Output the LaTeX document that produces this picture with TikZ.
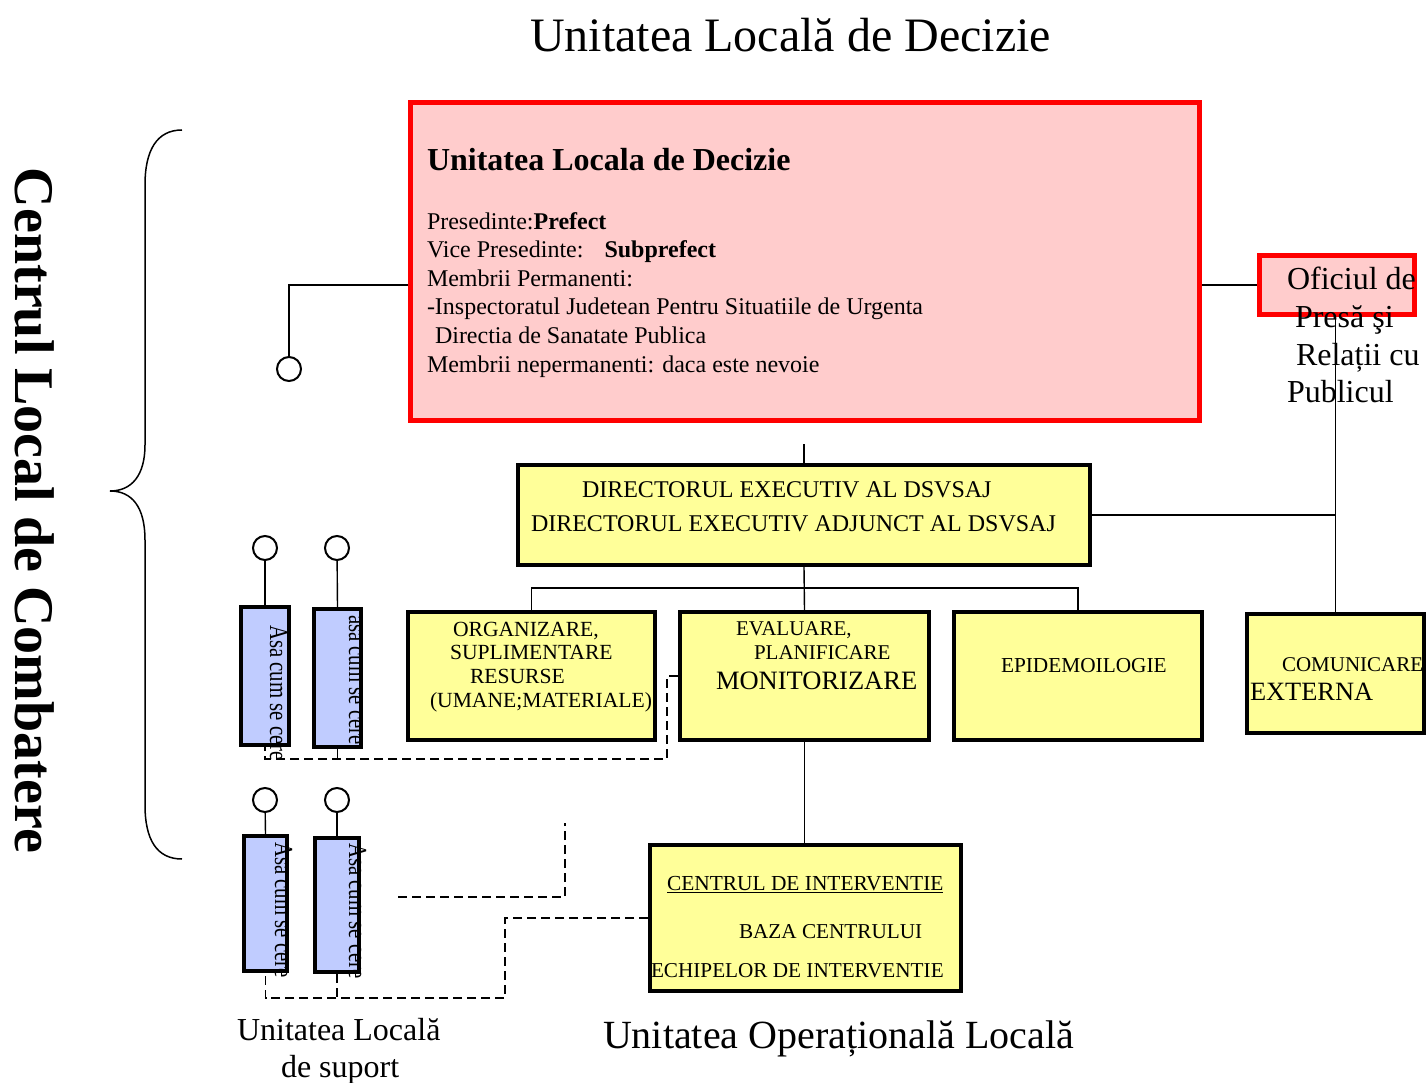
\documentclass[tikz,border=0pt]{standalone}
\usepackage{fontspec}
\setmainfont{Liberation Serif}
\usetikzlibrary{calc}
\newcommand\fsz[1]{\fontsize{#1}{#1}\selectfont}
\definecolor{pinkfill}{HTML}{FFCCCC}
\definecolor{yelfill}{HTML}{FFFF99}
\definecolor{blufill}{RGB}{192,204,255}
\begin{document}
\begin{tikzpicture}[x=1pt,y=-1pt,
  redbox/.style={draw=red,line width=5pt,fill=pinkfill,inner sep=0pt,rectangle},
  ybox/.style={draw=black,line width=4pt,fill=yelfill,inner sep=0pt,rectangle},
  bbox/.style={draw=black,line width=4pt,fill=blufill,inner sep=0pt,rectangle},
  ring/.style={circle,draw=black,line width=2pt,fill=white,minimum size=24pt,inner sep=0pt},
  conn/.style={line width=1.4pt},
  dconn/.style={line width=1.4pt,dash pattern=on 9pt off 5pt},
  txt/.style={anchor=base west,inner sep=0pt,outer sep=0pt},
  vtxt/.style={anchor=base west,inner sep=0pt,outer sep=0pt,rotate=-90}]
\useasboundingbox (0,0) rectangle (1427,1083);

% titles
\node[txt] (title) at (530,52) {\fsz{48}Unitatea Locală de Decizie};
\node[vtxt] (centrul) at (16,168) {\fsz{56}\bfseries Centrul Local de Combatere};
\node[txt] (ulsup1) at (237,1040) {\fsz{32}Unitatea Locală};
\node[txt] (ulsup2) at (281,1077) {\fsz{32}de suport};
\node[txt] (uol) at (603,1048) {\fsz{40}Unitatea Operațională Locală};

% brace
\draw[line width=1.5pt] (182,130) .. controls (157,130) and (145,150) .. (145,185)
  -- (145,445) .. controls (145,475) and (132,491) .. (110,491)
  .. controls (132,491) and (145,507) .. (145,540)
  -- (145,805) .. controls (145,840) and (157,859) .. (182,859);

% boxes
\node[redbox,minimum width=789pt,minimum height=318pt] (red) at (805,261.5) {};
\node[redbox,minimum width=155pt,minimum height=59pt] (ofic) at (1337,285) {};
\node[ybox,minimum width=572pt,minimum height=100pt] (dir) at (804,515) {};
\node[ybox,minimum width=247pt,minimum height=128pt] (org) at (531.5,676) {};
\node[ybox,minimum width=249pt,minimum height=128pt] (eval) at (804.5,676) {};
\node[ybox,minimum width=248pt,minimum height=128pt] (epid) at (1078,676) {};
\node[ybox,minimum width=177pt,minimum height=119pt] (comun) at (1335.5,673.5) {};
\node[ybox,minimum width=311pt,minimum height=146pt] (cent) at (805.5,918) {};
\node[bbox,minimum width=48pt,minimum height=138pt] (b1) at (265,676) {};
\node[bbox,minimum width=47pt,minimum height=138pt] (b2) at (337.5,678) {};
\node[bbox,minimum width=43pt,minimum height=135pt] (b3) at (265.5,903.5) {};
\node[bbox,minimum width=44pt,minimum height=134pt] (b4) at (337,905) {};

% circles
\node[ring] (c0) at (289,369) {};
\node[ring] (c1) at (265,548) {};
\node[ring] (c2) at (337,548) {};
\node[ring] (c3) at (265,800) {};
\node[ring] (c4) at (337,800) {};

% coordinates
\coordinate (rtop) at (804,444);
\coordinate (bus) at (804,588);
\coordinate (d1) at (667,759);
\coordinate (d2) at (505,998);
\coordinate (e1) at (398,897);
\coordinate (e2) at (565,823);

% solid connectors
\draw[conn] (red.west |- ofic.west) -| (c0);
\draw[conn] (red.east |- ofic.west) -- (ofic.west);
\draw[conn] (rtop) -- (dir.north);
\draw[conn] (dir.east) -- (dir.east -| comun.north);
\draw[conn] (dir.south) -- (eval.north);
\draw[conn] (org.north) |- (bus) -| (epid.north);
\draw[conn] (eval.south) -- (eval.south |- cent.north);
\draw[conn] (c1) -- (b1.north);
\draw[conn] (c2) -- (b2.north);
\draw[conn] (c3) -- (b3.north);
\draw[conn] (c4) -- (b4.north);
\draw[conn] (b2.south) -- (b2.south |- d1);

% dashed connectors
\draw[dconn] (eval.west) -| (d1) -| (b1.south);
\draw[dconn] (cent.west) -| (d2) -| (b3.south);
\draw[dconn] (b4.south) -- (b4.south |- d2);
\draw[dconn] (e1) -| (e2);

% texts in red box
\node[txt] (rt0) at (427,171) {\fsz{32}\bfseries Unitatea Locala de Decizie};
\node[txt] (rt1) at (427,230) {\fsz{24}Presedinte:\textbf{Prefect}};
\node[txt] (rt2) at (427,258) {\fsz{24}Vice Presedinte:\hspace{21pt}\textbf{Subprefect}};
\node[txt] (rt3) at (427,287) {\fsz{24}Membrii Permanenti:};
\node[txt] (rt4) at (427,315) {\fsz{24}-Inspectoratul Judetean Pentru Situatiile de Urgenta};
\node[txt] (rt5) at (435,343) {\fsz{24}Directia de Sanatate Publica};
\node[txt] (rt6) at (427,372) {\fsz{24}Membrii nepermanenti: daca este nevoie};

% oficiul text
\node[txt] (of1) at (1287,290) {\fsz{32}Oficiul de};
\node[txt] (of2) at (1295,327) {\fsz{32}Presă şi};
\node[txt] (of3) at (1296,365) {\fsz{32}Relații cu};
\node[txt] (of4) at (1287,402) {\fsz{32}Publicul};
\draw[conn] (ofic.south -| comun.north) -- (comun.north);

% directorul text
\node[txt] (dt1) at (582,497) {\fsz{24}DIRECTORUL EXECUTIV AL DSVSAJ};
\node[txt] (dt2) at (531,531) {\fsz{24}DIRECTORUL EXECUTIV ADJUNCT AL DSVSAJ};

% organizare
\node[txt] (ot1) at (453,636) {\fsz{21.6}ORGANIZARE,};
\node[txt] (ot2) at (450,659) {\fsz{21.6}SUPLIMENTARE};
\node[txt] (ot3) at (470,683) {\fsz{21.6}RESURSE};
\node[txt] (ot4) at (430,707) {\fsz{21.6}(UMANE;MATERIALE)};

% evaluare
\node[txt] (et1) at (736,635) {\fsz{21}EVALUARE,};
\node[txt] (et2) at (754,659) {\fsz{21}PLANIFICARE};
\node[txt] (et3) at (716,689) {\fsz{26.5}MONITORIZARE};

% epidemiologie
\node[txt] (pt1) at (1001,672) {\fsz{21.3}EPIDEMOILOGIE};

% comunicare
\node[txt] (ct1) at (1282,671) {\fsz{21}COMUNICARE};
\node[txt] (ct2) at (1250,700) {\fsz{26.4}EXTERNA};

% centrul de interventie
\node[txt] (it1) at (667,890) {\fsz{21.4}\underline{CENTRUL DE INTERVENTIE}};
\node[txt] (it2) at (739,938) {\fsz{21.2}BAZA CENTRULUI};
\node[txt] (it3) at (651,977) {\fsz{21.2}ECHIPELOR DE INTERVENTIE};

% vertical texts in blue boxes
\node[vtxt] (bt1) at (270,625) {\fsz{26}\scalebox{0.8}[1]{Asa cum se cere}};
\node[vtxt] (bt2) at (349,615) {\fsz{26}\scalebox{0.8}[1]{asa cum se cere}};
\node[vtxt] (bt3) at (275,842) {\fsz{26}\scalebox{0.8}[1]{Asa cum se cere}};
\node[vtxt] (bt4) at (349,843) {\fsz{26}\scalebox{0.8}[1]{Asa cum se cere}};
\end{tikzpicture}
\end{document}
